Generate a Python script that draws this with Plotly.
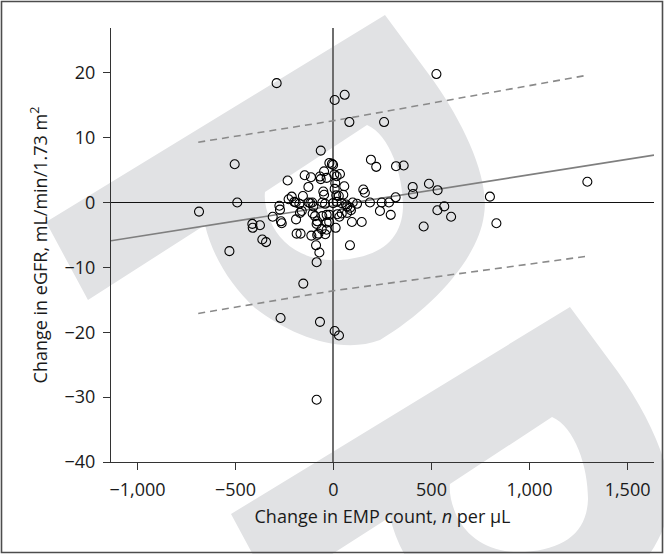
import plotly.graph_objects as go

# ---------------- data ----------------
emp_change = [
    -290, 6, 57, 81, 258, 525, -504, -491, -686, -531,
    -414, -412, -375, -363, -344, -310, -276, -273, -268, -264,
    -234, -229, -213, -200, -193, -191, -188, -168, -171, -162,
    -174, -156, -147, -115, -128, -127, -118, -108, -113, -89,
    -72, -86, -106, -103, -83, -86, -94, -77, -60, -69,
    -65, -65, -48, -35, -52, -48, -57, -43, -35, -21,
    -57, -35, -22, -35, -42, -83, -21, -8, -2, 4,
    16, 9, 6, 14, 27, -2, 16, 42, 11, 20,
    30, 42, 33, 55, 50, 64, 70, 69, 85, 89,
    98, 120, 94, 144, 84, 191, 218, 152, 160, 186,
    237, 246, 283, 292, 317, 319, 358, 404, 406, 487,
    531, 798, 1295, 530, 565, 600, 460, 831, -154, -270,
    -69, 6, 28, -86,
]
egfr_change = [
    18.4, 15.8, 16.6, 12.4, 12.4, 19.8, 5.9, 0.0, -1.4, -7.5,
    -3.3, -3.9, -3.5, -5.7, -6.1, -2.2, -0.5, -1.1, -2.9, -3.2,
    3.4, 0.5, 0.9, 0.1, 0.0, -2.6, -4.8, -4.8, -1.6, -1.3,
    -0.2, 1.0, 4.2, 3.9, 2.4, 0.0, -0.1, 0.0, -5.1, -6.6,
    -7.7, -9.2, -1.7, -0.6, -2.9, -3.3, -2.1, -4.8, -4.1, 4.0,
    3.6, 8.0, 4.8, 3.8, 1.7, 1.2, 0.0, -0.2, -1.9, -1.9,
    -2.1, -3.1, -3.0, -4.2, -4.9, -5.0, 6.1, 5.95, 5.8, 4.3,
    4.05, 3.0, 2.1, 1.1, 1.0, -0.1, 0.1, -0.1, -3.9, -1.8,
    -2.2, -1.7, 4.4, 2.5, 1.2, -0.3, -0.6, -1.6, -0.8, -1.2,
    0.0, -0.2, -3.0, -3.0, -6.6, 6.6, 5.5, 2.0, 1.5, 0.0,
    -1.3, 0.0, 0.0, -1.9, 0.8, 5.6, 5.7, 2.4, 1.3, 2.9,
    1.9, 0.9, 3.2, -1.2, -0.6, -2.2, -3.7, -3.2, -12.5, -17.8,
    -18.4, -19.8, -20.5, -30.4,
]

# regression line (solid) and prediction limits (dashed)
fit_x = [-1135, 1635]
fit_y = [-5.9, 7.3]
band_x = [-690, 0, 1290]
band_upper = [9.3, 12.6, 19.6]
band_lower = [-17.1, -13.6, -8.3]

x_tickvals = [-1000, -500, 0, 500, 1000, 1500]
x_ticktext = ["\u22121,000", "\u2212500", "0", "500", "1,000", "1,500"]
y_tickvals = [20, 10, 0, -10, -20, -30, -40]
y_ticktext = ["20", "10", "0", "\u221210", "\u221220", "\u221230", "\u221240"]

x_title = "Change in EMP count, <i>n</i> per µL"
y_title = "Change in eGFR, mL/min/1.73 m<sup>2</sup>"

# ---------------- figure ----------------
W, H = 664, 554
ML, MR, MT, MB = 111, 10, 28, 92
PW, PH = W - ML - MR, H - MT - MB


def px(x, y):
    return (x - ML) / PW, (MT + PH - y) / PH


def path_from(cmds, dx=0, dy=0):
    out = []
    for c in cmds:
        op, pts = c[0], c[1:]
        coords = []
        for (x, y) in pts:
            a, b = px(x + dx, y + dy)
            coords.append(f"{a:.4f},{b:.4f}")
        out.append(op + " ".join(coords))
    return " ".join(out) + " Z"


# background watermark (decoration, in pixel space)
outer = [
    ("M", (46, 222)), ("L", (385, 15)), ("L", (433, 80)),
    ("C", (465, 125), (490, 180), (484, 215)),
    ("C", (478, 260), (430, 310), (380, 340)),
    ("C", (340, 355), (290, 335), (255, 308)),
    ("C", (230, 285), (212, 255), (205, 225)),
    ("L", (88, 300)),
]
hole = [
    ("M", (265, 192)), ("L", (367, 125)),
    ("C", (390, 135), (403, 175), (403, 207)),
    ("C", (402, 240), (380, 257), (340, 260)),
    ("C", (305, 262), (280, 245), (270, 220)),
    ("C", (266, 210), (264, 200), (265, 192)),
]

shapes = []
for (dx, dy) in [(0, 0), (185, 292)]:
    shapes.append(dict(
        type="path", xref="paper", yref="paper", layer="below",
        path=path_from(outer, dx, dy) + " " + path_from(hole, dx, dy),
        fillrule="evenodd", fillcolor="#e1e2e4", line=dict(width=0),
    ))

bx0, by0 = px(1.5, 552.5)
bx1, by1 = px(662.5, 1.5)
shapes.append(dict(type="rect", xref="paper", yref="paper",
                   x0=bx0, y0=by0, x1=bx1, y1=by1,
                   line=dict(color="#4d4d4d", width=1.6), layer="above"))

fig = go.Figure()
fig.add_trace(go.Scatter(x=band_x, y=band_upper, mode="lines",
                         line=dict(color="#8a8a8a", width=1.6, dash="7px,5px"),
                         hoverinfo="skip", showlegend=False))
fig.add_trace(go.Scatter(x=band_x, y=band_lower, mode="lines",
                         line=dict(color="#8a8a8a", width=1.6, dash="7px,5px"),
                         hoverinfo="skip", showlegend=False))
fig.add_trace(go.Scatter(x=fit_x, y=fit_y, mode="lines",
                         line=dict(color="#7f7f7f", width=1.6),
                         hoverinfo="skip", showlegend=False))
fig.add_trace(go.Scatter(x=emp_change, y=egfr_change, mode="markers",
                         marker=dict(symbol="circle-open", size=9,
                                     color="black", line=dict(width=1.1)),
                         showlegend=False))

font_family = "Open Sans, Noto Sans, sans-serif"
fig.update_layout(
    width=W, height=H,
    margin=dict(l=ML, r=MR, t=MT, b=MB, pad=0),
    paper_bgcolor="white", plot_bgcolor="rgba(0,0,0,0)",
    font=dict(family=font_family, size=18, color="#1a1a1a"),
    shapes=shapes,
    showlegend=False,
)
fig.update_xaxes(
    range=[-1135, 1635], tickvals=x_tickvals, ticktext=x_ticktext,
    showgrid=False, showline=True, linecolor="#333333", linewidth=1.2,
    ticks="outside", ticklen=7, tickcolor="#333333", tickwidth=1.2,
    ticklabelstandoff=4,
    zeroline=True, zerolinecolor="#6e6e6e", zerolinewidth=2,
    title=dict(text=x_title, standoff=10, font=dict(size=18)),
)
fig.update_yaxes(
    range=[-40, 26.9], tickvals=y_tickvals, ticktext=y_ticktext,
    showgrid=False, showline=True, linecolor="#333333", linewidth=1.2,
    ticks="outside", ticklen=7, tickcolor="#333333", tickwidth=1.2,
    ticklabelstandoff=4,
    zeroline=True, zerolinecolor="#111111", zerolinewidth=1.4,
    title=dict(text=y_title, standoff=12, font=dict(size=18)),
)

fig.write_html(
    "out.html",
    config={"displayModeBar": False},
    post_script="document.body.style.margin='0';document.body.style.overflow='hidden';",
)
